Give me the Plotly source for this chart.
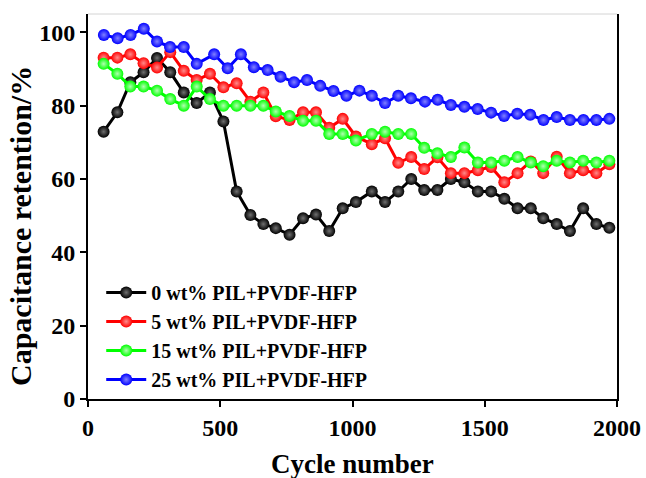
import plotly.graph_objects as go

# Cycle numbers at which capacity retention was sampled
cycles = [59, 111, 160, 210, 261, 311, 362, 411, 461, 512,
          562, 614, 663, 710, 762, 813, 862, 912, 963, 1013,
          1073, 1123, 1173, 1222, 1271, 1321, 1372, 1423, 1474, 1524,
          1574, 1624, 1674, 1721, 1772, 1822, 1872, 1922, 1971]

cycles_25 = [60, 112, 161, 211, 261, 310, 362, 411, 477, 528,
             578, 627, 679, 728, 779, 828, 878, 928, 977, 1026,
             1073, 1123, 1173, 1221, 1274, 1322, 1372, 1423, 1473, 1524,
             1573, 1623, 1672, 1722, 1772, 1822, 1873, 1922, 1971]

# Capacitance retention (%)
ret_0 = [72.9, 78.2, 86.4, 89.1, 93.0, 89.1, 83.6, 80.7, 83.6, 75.7,
         56.6, 50.2, 47.7, 46.6, 44.8, 49.3, 50.3, 45.8, 52.0, 53.7,
         56.6, 53.7, 56.6, 60.0, 57.0, 57.0, 60.0, 59.1, 56.6, 56.6,
         54.6, 52.0, 52.0, 49.3, 47.7, 45.8, 52.0, 47.7, 46.7]

ret_5 = [93.1, 93.1, 94.0, 91.6, 90.4, 94.6, 89.5, 87.0, 88.7, 85.0,
         86.1, 81.1, 83.6, 77.1, 76.1, 78.2, 78.2, 74.0, 76.4, 71.6,
         69.5, 71.1, 64.4, 66.0, 62.7, 65.9, 61.6, 61.6, 62.4, 63.3,
         59.1, 61.6, 64.8, 61.6, 66.1, 61.6, 62.4, 61.6, 64.0]

ret_15 = [91.4, 88.7, 85.2, 85.2, 84.1, 81.8, 80.0, 85.2, 81.8, 80.0,
          80.0, 80.0, 80.0, 78.4, 77.2, 75.9, 75.9, 72.3, 72.3, 70.5,
          72.3, 72.9, 72.3, 72.3, 68.5, 67.0, 66.0, 68.6, 64.5, 64.5,
          65.0, 66.0, 64.5, 63.5, 65.0, 64.5, 65.0, 64.5, 65.0]

ret_25 = [99.3, 98.4, 99.3, 101.0, 97.5, 96.0, 96.0, 91.4, 94.0, 90.2,
          94.0, 90.5, 89.7, 87.9, 86.4, 87.0, 85.4, 84.0, 82.7, 84.1,
          82.7, 80.7, 82.7, 82.0, 81.1, 81.6, 80.2, 79.7, 79.1, 78.1,
          77.2, 77.8, 77.5, 76.1, 76.9, 76.1, 76.1, 76.1, 76.4]

series = [
    ("0 wt% PIL+PVDF-HFP", cycles, ret_0, "#000000", "#707070"),
    ("5 wt% PIL+PVDF-HFP", cycles, ret_5, "#ff0000", "#ff8a8a"),
    ("15 wt% PIL+PVDF-HFP", cycles, ret_15, "#00ff00", "#b0ffb0"),
    ("25 wt% PIL+PVDF-HFP", cycles_25, ret_25, "#0000ff", "#8080ff"),
]

FONT = "Liberation Serif"

fig = go.Figure()
for name, xs, ys, col, hi in series:
    fig.add_trace(go.Scatter(
        x=xs, y=ys, name=name, mode="lines+markers",
        line=dict(color=col, width=3),
        marker=dict(size=12, color=col, line=dict(width=0),
                    gradient=dict(type="radial", color=hi)),
    ))

axis_common = dict(
    showgrid=False, zeroline=False, showline=True, linecolor="black",
    linewidth=2, ticks="outside", tickcolor="black", tickwidth=2,
    ticklen=6, automargin=False,
    tickfont=dict(family=FONT, size=24, color="black", weight="bold"),
)

fig.update_layout(
    width=646, height=478,
    margin=dict(l=88, r=29, t=14, b=79),
    paper_bgcolor="white", plot_bgcolor="white",
    font=dict(family=FONT, color="black"),
    xaxis=dict(range=[0, 2000], tickvals=[0, 500, 1000, 1500, 2000],
               mirror=False, **axis_common),
    yaxis=dict(range=[0, 105], tickvals=[0, 20, 40, 60, 80, 100],
               mirror=True, **axis_common),
    legend=dict(x=0.025, y=0.0, xanchor="left", yanchor="bottom",
                bgcolor="rgba(0,0,0,0)", itemwidth=40, tracegroupgap=0,
                font=dict(family=FONT, size=20, color="black", weight="bold")),
    showlegend=True,
    shapes=[
        # faint top edge of the frame
        dict(type="line", xref="paper", yref="paper", x0=0, x1=1, y0=1, y1=1,
             line=dict(color="#d4d4d4", width=1)),
    ],
    annotations=[
        dict(text="<b>Cycle number</b>", xref="paper", yref="paper",
             x=0.5, y=-0.168, xanchor="center", yanchor="middle",
             showarrow=False, font=dict(family=FONT, size=27, color="black")),
        dict(text="<b>Capacitance retention/%</b>", xref="paper", yref="paper",
             x=-0.128, y=0.45, xanchor="center", yanchor="middle", textangle=-90,
             showarrow=False, font=dict(family=FONT, size=30, color="black")),
    ],
)

fig.write_html("out.html")
